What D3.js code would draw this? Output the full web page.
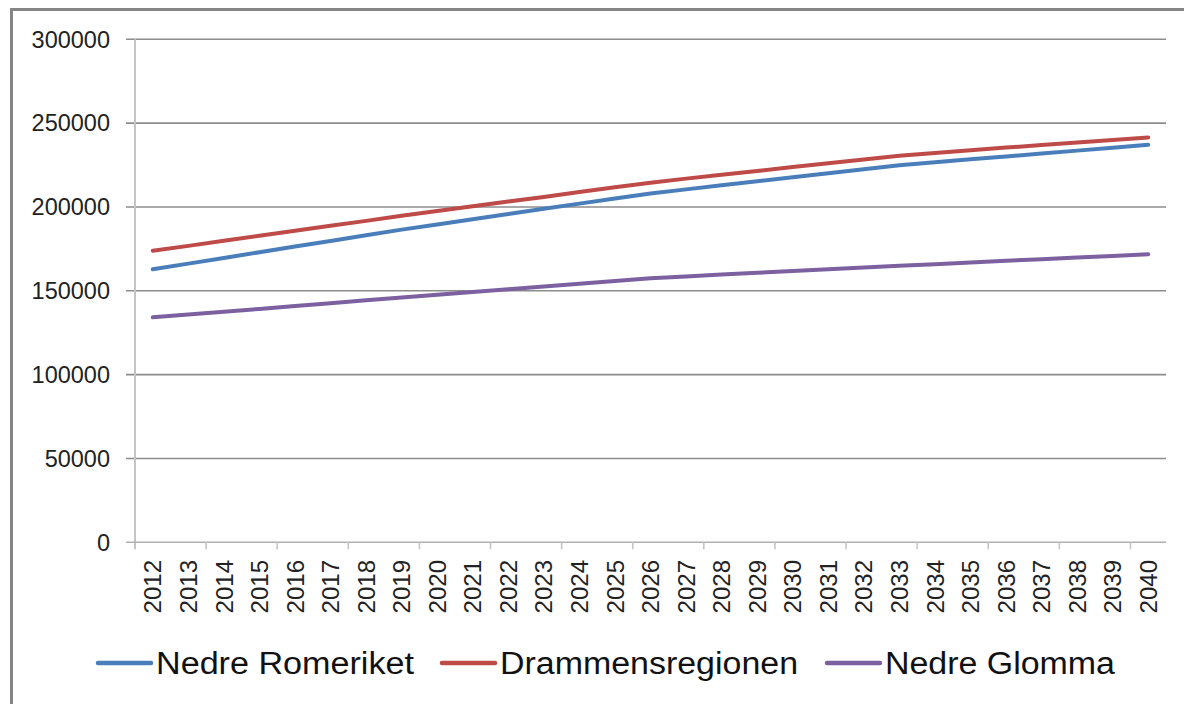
<!DOCTYPE html>
<html><head><meta charset="utf-8">
<script src="https://cdn.jsdelivr.net/npm/d3@7"></script>
<style>body{margin:0;background:#fff}svg{display:block}</style>
</head><body><svg id="c" width="1184" height="704"></svg>
<script>
const years = ["2012","2013","2014","2015","2016","2017","2018","2019","2020","2021","2022","2023","2024","2025","2026","2027","2028","2029","2030","2031","2032","2033","2034","2035","2036","2037","2038","2039","2040"];
const nedreRomeriket = [162800,166200,169600,173000,176400,179700,183100,186500,189600,192700,195800,198900,202000,205000,208000,210500,212900,215300,217700,220100,222500,224900,226700,228400,230100,231900,233600,235300,237100];
const drammensregionen = [173900,176800,179800,182800,185800,188800,191700,194700,197600,200400,203200,206000,208900,211700,214500,216900,219200,221500,223800,226100,228300,230500,232200,233800,235400,236900,238400,240000,241500];
const nedreGlomma = [134200,135800,137500,139200,140900,142600,144300,146000,147600,149300,150900,152600,154200,155900,157500,158600,159700,160700,161800,162800,163900,165000,165900,166900,167900,168800,169800,170800,171800];
const yTicks = [0,50000,100000,150000,200000,250000,300000];
const seriesNames = ["Nedre Romeriket","Drammensregionen","Nedre Glomma"];
const seriesColors = ["#4a7ebb","#be4b48","#7d60a0"];

const series = [nedreRomeriket, drammensregionen, nedreGlomma];
const svg = d3.select("#c");
const font = "'Liberation Sans', Arial, sans-serif";

// outer frame
svg.append("rect").attr("x",11.5).attr("y",9.5).attr("width",1200).attr("height",720)
  .attr("fill","none").attr("stroke","#858585").attr("stroke-width",3);

const L = 135, R = 1166, T = 39.3, B = 542.3;
const x = d3.scaleBand().domain(years).range([L,R]).paddingInner(0).paddingOuter(0);
const y = d3.scaleLinear().domain([0,300000]).range([B,T]);

// gridlines
svg.append("g").selectAll("line").data(yTicks.filter(d=>d>0)).join("line")
  .attr("x1",126).attr("x2",R).attr("y1",d=>y(d)).attr("y2",d=>y(d))
  .attr("stroke","#8c8c8c").attr("stroke-width",1.6);

// y axis line
svg.append("line").attr("x1",L).attr("x2",L).attr("y1",T).attr("y2",B+7)
  .attr("stroke","#c4c4c4").attr("stroke-width",2);
// x axis line
svg.append("line").attr("x1",126).attr("x2",R).attr("y1",B).attr("y2",B)
  .attr("stroke","#b0b0b0").attr("stroke-width",1.6);
// x ticks every 2 categories
const tickPos = d3.range(2, years.length, 2).map(i => x(years[i]));
svg.append("g").selectAll("line").data(tickPos).join("line")
  .attr("x1",d=>d).attr("x2",d=>d).attr("y1",B).attr("y2",B+7)
  .attr("stroke","#c4c4c4").attr("stroke-width",1.6);

// y labels
svg.append("g").selectAll("text").data(yTicks).join("text")
  .attr("x",110).attr("y",d=>y(d)).attr("dy","0.35em").attr("text-anchor","end")
  .attr("font-family",font).attr("font-size",23.5).attr("fill","#222")
  .text(d=>d);

// x labels
svg.append("g").selectAll("text").data(years).join("text")
  .attr("transform",d=>`translate(${x(d)+x.bandwidth()/2},560) rotate(-90)`)
  .attr("dy","0.36em").attr("text-anchor","end")
  .attr("font-family",font).attr("font-size",24).attr("fill","#222")
  .text(d=>d);

// lines
const line = d3.line().x((d,i)=>x(years[i])+x.bandwidth()/2).y(d=>y(d));
svg.append("g").selectAll("path").data(series).join("path")
  .attr("d",line).attr("fill","none").attr("stroke",(d,i)=>seriesColors[i])
  .attr("stroke-width",4).attr("stroke-linejoin","round").attr("stroke-linecap","round");

// legend
const legX = [98, 442, 827];
const legW = [258, 298, 230];
const lg = svg.append("g").selectAll("g").data(seriesNames).join("g")
  .attr("transform",(d,i)=>`translate(${legX[i]},663)`);
lg.append("line").attr("x1",0).attr("x2",53).attr("y1",0).attr("y2",0)
  .attr("stroke",(d,i)=>seriesColors[i]).attr("stroke-width",4.5).attr("stroke-linecap","round");
lg.append("text").attr("x",58).attr("y",0).attr("dy","0.36em")
  .attr("font-family",font).attr("font-size",31).attr("fill","#111")
  .attr("textLength",(d,i)=>legW[i]).attr("lengthAdjust","spacingAndGlyphs")
  .text(d=>d);
</script></body></html>
